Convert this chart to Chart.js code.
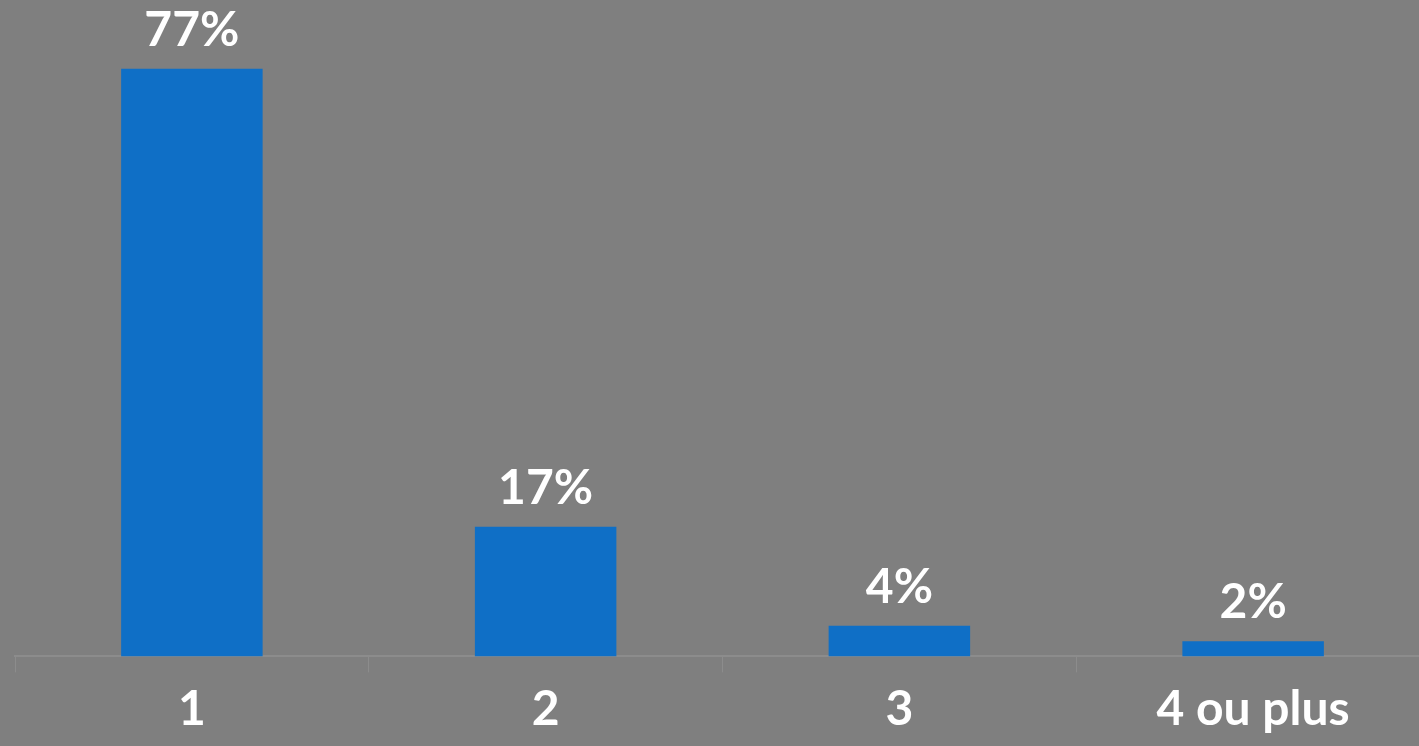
<!DOCTYPE html>
<html>
<head>
<meta charset="utf-8">
<script src="https://cdn.jsdelivr.net/npm/chart.js@4/dist/chart.umd.min.js"></script>
<style>
    html, body { margin: 0; padding: 0; background: #7f7f7f; overflow: hidden; }
    #wrap { width: 1445px; height: 746px; }
</style>
</head>
<body>
<div id="wrap"><canvas id="chart"></canvas></div>
<script>
const categories = ['1', '2', '3', '4 ou plus'];
const shares = [77, 17, 4, 2];

const FONT = "'Century Gothic', Lato, 'DejaVu Sans', sans-serif";

// percentage above each bar
const valueLabels = {
    id: 'valueLabels',
    afterDatasetsDraw(chart) {
        const ctx = chart.ctx;
        const meta = chart.getDatasetMeta(0);
        ctx.save();
        ctx.fillStyle = '#ffffff';
        ctx.font = 'bold 48px ' + FONT;
        ctx.textAlign = 'center';
        ctx.textBaseline = 'alphabetic';
        meta.data.forEach((bar, i) => {
            ctx.fillText(shares[i] + '%', bar.x, bar.y - 23);
        });
        ctx.restore();
    }
};

new Chart(document.getElementById('chart'), {
    type: 'bar',
    data: {
        labels: categories,
        datasets: [{
            data: shares,
            backgroundColor: '#0f6fc6',
            categoryPercentage: 1,
            barPercentage: 0.4
        }]
    },
    options: {
        responsive: true,
        maintainAspectRatio: false,
        animation: false,
        layout: {padding: {left: 15, right: 15, top: 0, bottom: 0}},
        plugins: {legend: {display: false}, tooltip: {enabled: false}},
        scales: {
            y: {display: false, min: 0, max: 86},
            x: {
                grid: {
                    offset: true,
                    drawOnChartArea: false,
                    drawTicks: true,
                    tickLength: 16,
                    color: '#8c8c8c',
                    lineWidth: 1
                },
                border: {color: '#8c8c8c', width: 2},
                ticks: {
                    color: '#ffffff',
                    font: {family: FONT, size: 48, weight: 'bold'},
                    padding: 8,
                    maxRotation: 0
                }
            }
        }
    },
    plugins: [valueLabels]
});
</script>
</body>
</html>
